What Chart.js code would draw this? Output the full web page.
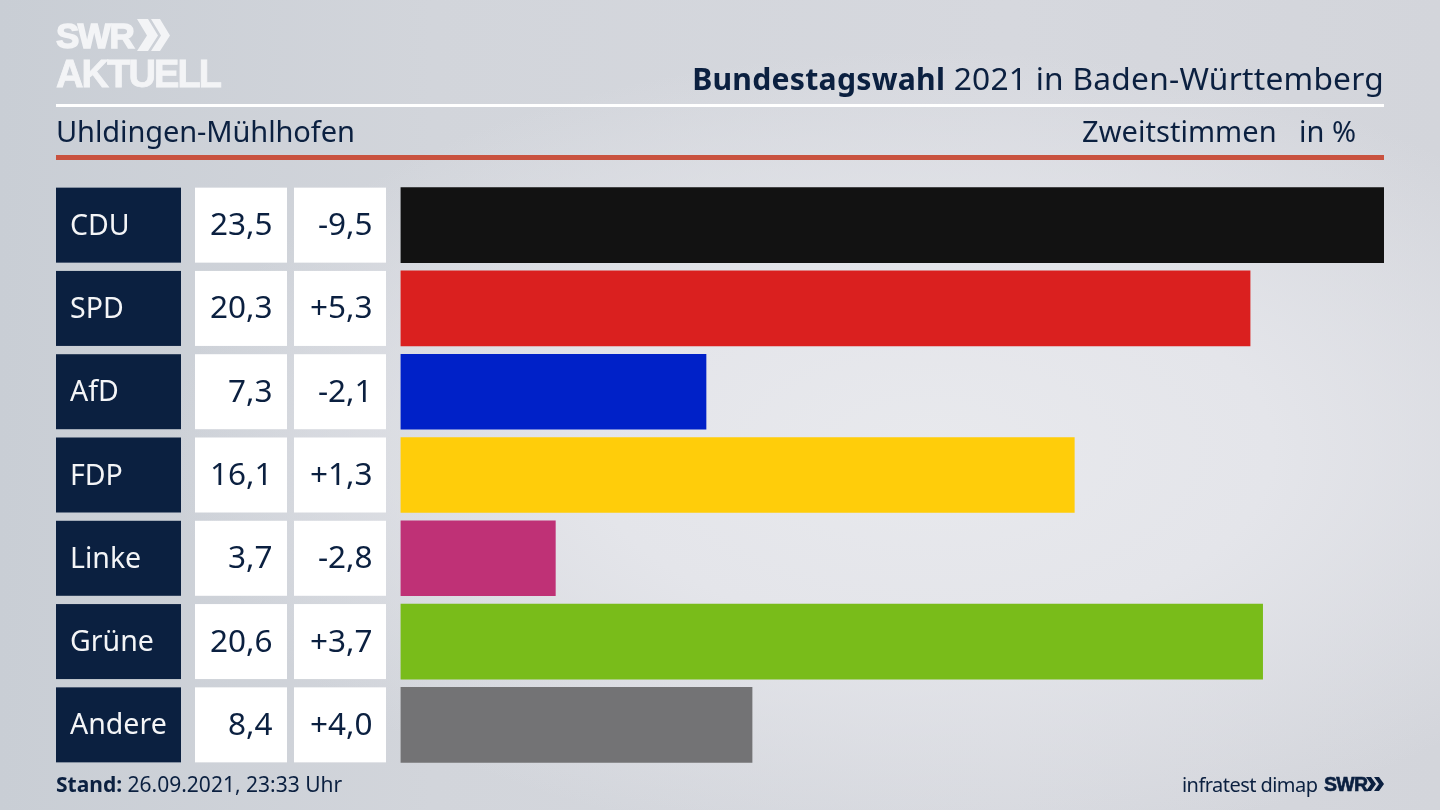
<!DOCTYPE html>
<html lang="de">
<head>
<meta charset="utf-8">
<title>Bundestagswahl 2021 in Baden-Württemberg</title>
<script src="https://cdn.jsdelivr.net/npm/chart.js@4"></script>
<style>
  html, body { margin: 0; padding: 0; }
  body {
    width: 1440px; height: 810px; overflow: hidden; position: relative;
    font-family: "Noto Sans", sans-serif; color: #0b2040;
    background:
      radial-gradient(ellipse 760px 400px at 930px 450px, #e8e9ed 0%, #e4e5ea 45%, rgba(228,229,234,0) 100%),
      linear-gradient(90deg, #c9ced5 0%, #d2d5db 30%, #d6d8de 70%, #d3d5db 100%);
  }
  #wrap { position: absolute; left: 0; top: 0; width: 1440px; height: 810px; }
  .txt { position: absolute; white-space: nowrap; line-height: 1; }
  .rule { position: absolute; left: 56px; width: 1328px; }
  #logo1, #logo2 { font-family: "Liberation Sans", sans-serif; font-weight: 700; color: #f3f4f6; }
  svg { position: absolute; }
</style>
</head>
<body>
<div id="wrap"><canvas id="chart" width="1440" height="810"></canvas></div>

<div class="txt" id="logo1" style="left:56px;top:18px;font-size:35px;letter-spacing:-1.5px;-webkit-text-stroke:1.4px #f3f4f6">SWR</div>
<svg style="left:136px;top:18px" width="36" height="36"><path d="M1 1 L12 1 L22 17.5 L12 33 L1 33 L11 17.5Z M15 1 L24 1 L34 17.5 L24 33 L15 33 L25 17.5Z" fill="#f3f4f6"/></svg>
<div class="txt" id="logo2" style="left:56px;top:55px;font-size:38px;letter-spacing:-1.9px;-webkit-text-stroke:.8px #f3f4f6">AKTUELL</div>

<div class="txt" style="right:56px;top:62px;font-size:31.7px;letter-spacing:.25px"><b style="font-size:30.2px">Bundestagswahl</b> 2021 in Baden-Württemberg</div>
<div class="rule" style="top:104px;height:3px;background:#fff"></div>
<div class="txt" style="left:56px;top:116px;font-size:29px;letter-spacing:-.1px">Uhldingen-Mühlhofen</div>
<div class="txt" style="left:1082px;top:116px;font-size:29px;letter-spacing:.05px">Zweitstimmen</div>
<div class="txt" style="left:1299px;top:116px;font-size:29px">in %</div>
<div class="rule" style="top:155px;height:5px;background:#c9523f"></div>

<div class="txt" style="left:56px;top:774px;font-size:21px"><b>Stand:</b> 26.09.2021, 23:33 Uhr</div>
<div class="txt" style="left:1182px;top:775px;font-size:20px;letter-spacing:-.55px">infratest dimap</div>
<div class="txt" style="left:1324px;top:775px;font-size:19.5px;font-weight:700;font-family:'Liberation Sans',sans-serif;letter-spacing:-.7px;-webkit-text-stroke:.6px #0b2040">SWR</div>
<svg style="left:1366px;top:776px" width="19" height="17"><path d="M0 1 L5 1 L10 8 L5 15 L0 15 L5 8Z M8 1 L13 1 L18 8 L13 15 L8 15 L13 8Z" fill="#0b2040"/></svg>

<script>
const parties = ['CDU', 'SPD', 'AfD', 'FDP', 'Linke', 'Grüne', 'Andere'];
const shares = [23.5, 20.3, 7.3, 16.1, 3.7, 20.6, 8.4];
const shareLabels = ['23,5', '20,3', '7,3', '16,1', '3,7', '20,6', '8,4'];
const diffLabels = ['-9,5', '+5,3', '-2,1', '+1,3', '-2,8', '+3,7', '+4,0'];
const partyColors = ['#121212', '#da201f', '#0021c8', '#ffcd0a', '#bf3176', '#79bc1a', '#737375'];

// the table left of the bars, one row per category
const tableCells = {
  id: 'tableCells',
  afterDatasetsDraw(chart) {
    const c = chart.ctx, y = chart.scales.y;
    c.save();
    c.textBaseline = 'middle';
    parties.forEach((p, i) => {
      const mid = y.getPixelForValue(i), top = mid - 37.5;
      c.fillStyle = '#0b2040';
      c.fillRect(56, top, 125, 75);
      c.fillStyle = '#fff';
      c.fillRect(195, top, 92, 75);
      c.fillRect(294, top, 92, 75);
      c.textAlign = 'left';
      c.fillStyle = '#f4f5f7';
      c.font = '28.5px "Noto Sans", sans-serif';
      c.fillText(p, 70, mid + 1.5);
      c.textAlign = 'right';
      c.fillStyle = '#0b2040';
      c.font = '31.5px "Noto Sans", sans-serif';
      c.fillText(shareLabels[i], 272.5, mid + 1);
      c.fillText(diffLabels[i], 372.5, mid + 1);
    });
    c.restore();
  }
};

new Chart(document.getElementById('chart'), {
  type: 'bar',
  data: {
    labels: parties,
    datasets: [{
      label: 'Zweitstimmen in %',
      data: shares,
      backgroundColor: partyColors,
      borderWidth: 0,
      barThickness: 75
    }]
  },
  options: {
    indexAxis: 'y',
    responsive: false,
    animation: false,
    layout: { padding: { left: 400.5, right: 56, top: 183.5, bottom: 43.5 } },
    plugins: { legend: { display: false }, tooltip: { enabled: false } },
    scales: {
      x: { display: false, min: 0, max: 23.5 },
      y: { display: false }
    }
  },
  plugins: [tableCells]
});
</script>
</body>
</html>
